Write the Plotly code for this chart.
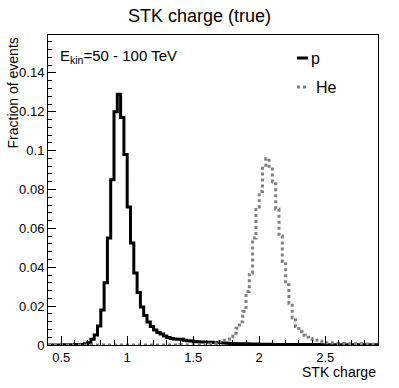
import plotly.graph_objects as go

# histogram binning: 100 bins of 0.025 between 0.4 and 2.9
bin_lo = 0.4
bin_w = 0.025
n_bins = 100
bin_edges = [round(bin_lo + i * bin_w, 4) for i in range(n_bins + 1)]

# fraction of events per bin
proton = [
    0, 0, 0, 0, 0, 0.0001, 0.0001, 0.0001, 0.0002, 0.0002,
    0.0003, 0.0006, 0.0012, 0.003, 0.0052, 0.0098, 0.018, 0.032, 0.055, 0.085,
    0.12, 0.129, 0.117, 0.098, 0.071, 0.0525, 0.037, 0.027, 0.0195, 0.0152,
    0.0118, 0.0095, 0.0077, 0.0064, 0.0056, 0.0046, 0.0039, 0.0034, 0.0031, 0.003,
    0.003, 0.0025, 0.0022, 0.0021, 0.0018, 0.0017, 0.0016, 0.0016, 0.0014, 0.0014,
    0.0013, 0.0012, 0.0011, 0.001, 0.0009, 0.0008, 0.0008, 0.0007, 0.0007, 0.0006,
    0.0006, 0.0005, 0.0005, 0.0005, 0.0004, 0.0004, 0.0004, 0.0004, 0.0003, 0.0003,
    0.0003, 0.0003, 0.0003, 0.0002, 0.0002, 0.0002, 0.0002, 0.0002, 0.0002, 0.0002,
    0.0002, 0.0002, 0.0002, 0.0002, 0.0001, 0.0001, 0.0001, 0.0001, 0.0001, 0.0001,
    0.0001, 0.0001, 0.0001, 0.0001, 0.0001, 0.0001, 0.0001, 0.0001, 0.0001, 0.0001,
]
helium = [
    0, 0, 0, 0, 0, 0, 0, 0, 0, 0,
    0, 0, 0, 0, 0, 0, 0, 0, 0, 0,
    0, 0, 0, 0, 0, 0, 0, 0, 0, 0,
    0, 0, 0, 0, 0, 0, 0, 0, 0, 0,
    0.0001, 0.0001, 0.0001, 0.0001, 0.0001, 0.0001, 0.0002, 0.0002, 0.0003, 0.0005,
    0.0008, 0.0012, 0.0018, 0.0025, 0.003, 0.0043, 0.006, 0.0086, 0.012, 0.0172,
    0.0275, 0.037, 0.055, 0.071, 0.079, 0.091, 0.096, 0.092, 0.084, 0.07,
    0.056, 0.043, 0.031, 0.0215, 0.014, 0.0095, 0.0068, 0.005, 0.004, 0.0034,
    0.003, 0.0024, 0.0019, 0.0015, 0.0012, 0.0011, 0.001, 0.0009, 0.0008, 0.0008,
    0.0007, 0.0007, 0.0006, 0.0006, 0.0006, 0.0005, 0.0005, 0.0005, 0.0004, 0.0004,
]

FONT = "Liberation Sans, Arial, Helvetica, sans-serif"
W, H = 399, 388
L, R, T, B = 48, 21, 35, 43


def px(x, y):
    # pixel position -> paper coordinates of the plot area
    return (x - L) / (W - L - R), (H - B - y) / (H - T - B)


def step(vals):
    # hv step line: repeat last value at the final edge
    return bin_edges, list(vals) + [vals[-1]]


fig = go.Figure()
x, y = step(proton)
fig.add_trace(go.Scatter(x=x, y=y, mode="lines", line_shape="hv", name="p",
                         line=dict(color="black", width=3)))
x, y = step(helium)
fig.add_trace(go.Scatter(x=x, y=y, mode="lines", line_shape="hv", name="He",
                         line=dict(color="#808080", width=3, dash="3px,3px")))

fig.update_layout(
    width=W, height=H,
    margin=dict(l=L, r=R, t=T, b=B),
    paper_bgcolor="white", plot_bgcolor="white",
    showlegend=False,
    font=dict(family=FONT, size=13, color="black"),
    title=dict(text="STK charge (true)", x=0.5, xref="container", xanchor="center",
               y=1 - 16 / H, yref="container", yanchor="middle",
               font=dict(size=18)),
)
fig.update_xaxes(range=[0.4, 2.9], tick0=0.5, dtick=0.5, ticks="inside", ticklen=9,
                 tickcolor="black", showline=True, linecolor="black", mirror=True,
                 showgrid=False, zeroline=False, ticklabelstandoff=0,
                 minor=dict(dtick=0.1, tick0=0.5, ticks="inside", ticklen=5, tickcolor="black"))
fig.update_yaxes(range=[0, 0.1595], tick0=0, dtick=0.02, ticks="inside", ticklen=8,
                 tickcolor="black", showline=True, linecolor="black", mirror=True,
                 showgrid=False, zeroline=False,
                 minor=dict(dtick=0.004, tick0=0, ticks="inside", ticklen=4, tickcolor="black"))

ax, ay = px(378, 362)
fig.add_annotation(text="STK charge", xref="paper", yref="paper", x=ax, y=ay,
                   xanchor="right", yanchor="top", showarrow=False, font=dict(size=14))
ax, ay = px(13, 36)
fig.add_annotation(text="Fraction of events", xref="paper", yref="paper", x=ax, y=ay,
                   textangle=-90, xanchor="center", yanchor="top", showarrow=False,
                   font=dict(size=14))
ax, ay = px(58, 57)
fig.add_annotation(text="E<sub>kin</sub>=50 - 100 TeV", xref="paper", yref="paper", x=ax, y=ay,
                   xanchor="left", yanchor="middle", showarrow=False, font=dict(size=15))

# legend drawn by hand, ROOT style
x0, y0 = px(297, 58)
x1, _ = px(308, 58)
fig.add_shape(type="line", xref="paper", yref="paper", x0=x0, x1=x1, y0=y0, y1=y0,
              line=dict(color="black", width=3))
ax, ay = px(309, 58)
fig.add_annotation(text="p", xref="paper", yref="paper", x=ax, y=ay,
                   xanchor="left", yanchor="middle", showarrow=False, font=dict(size=16))
x0, y0 = px(297, 87)
x1, _ = px(308, 87)
fig.add_shape(type="line", xref="paper", yref="paper", x0=x0, x1=x1, y0=y0, y1=y0,
              line=dict(color="#808080", width=3, dash="3px,3px"))
ax, ay = px(314, 87)
fig.add_annotation(text="He", xref="paper", yref="paper", x=ax, y=ay,
                   xanchor="left", yanchor="middle", showarrow=False, font=dict(size=16))

# drop the default page margin so the figure sits at the window's corner
fig.write_html("out.html", config={"displayModeBar": False},
               post_script="document.body.style.margin='0';")
